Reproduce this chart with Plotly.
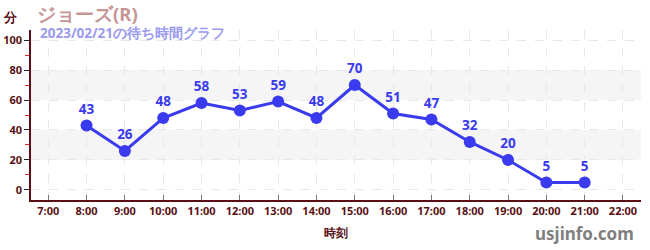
import plotly.graph_objects as go

hours = [8, 9, 10, 11, 12, 13, 14, 15, 16, 17, 18, 19, 20, 21]
waits = [43, 26, 48, 58, 53, 59, 48, 70, 51, 47, 32, 20, 5, 5]
tick_hours = list(range(7, 23))
tick_labels = [f"{h}:00" for h in tick_hours]
y_ticks = [0, 20, 40, 60, 80, 100]

maroon = "#5a0f14"
blue = "#3a3aee"

fig = go.Figure()
fig.add_trace(go.Scatter(
    x=hours, y=waits, mode="lines+markers+text",
    text=[str(v) for v in waits], textposition="top center",
    textfont=dict(color=blue, size=13.5, family="Noto Sans", weight="bold"),
    line=dict(color=blue, width=3),
    marker=dict(color=blue, size=12),
    cliponaxis=False, showlegend=False,
))

for lo, hi in [(20, 40), (60, 80)]:
    fig.add_shape(type="rect", xref="paper", yref="y", x0=0, x1=1, y0=lo, y1=hi,
                  fillcolor="#f5f5f5", line_width=0, layer="below")

fig.update_layout(
    width=650, height=250,
    margin=dict(l=31, r=9, t=30, b=50),
    plot_bgcolor="white", paper_bgcolor="white",
    font=dict(family="Noto Sans", color=maroon),
    xaxis=dict(
        range=[6.55, 22.47], tickvals=tick_hours, ticktext=tick_labels,
        showgrid=True, gridcolor="#e8e8e8", griddash="dash", gridwidth=1,
        showline=True, linecolor=maroon, linewidth=1.5,
        ticks="inside", ticklen=5, tickcolor="#777777",
        tickfont=dict(size=11, color=maroon, weight="bold"),
        zeroline=False, automargin=False,
        title=dict(text="時刻", font=dict(size=12, color=maroon, weight="bold"), standoff=12),
    ),
    yaxis=dict(
        range=[-6.7, 106.7], tickvals=y_ticks,
        showgrid=True, gridcolor="#e8e8e8", griddash="dash", gridwidth=1,
        showline=True, linecolor=maroon, linewidth=1.5,
        ticks="outside", ticklen=5, tickcolor="#222222",
        tickfont=dict(size=11, color=maroon, weight="bold"),
        zeroline=False, automargin=False,
        minor=dict(tickvals=[10, 30, 50, 70, 90], ticks="outside", ticklen=4, tickcolor="#dd2222", showgrid=False),
    ),
)

fig.add_annotation(text="分", xref="paper", yref="paper", x=-21/610, y=1 + 13/170,
                   xanchor="center", yanchor="middle", showarrow=False,
                   font=dict(size=13, color=maroon, weight="bold"))
fig.add_annotation(text="ジョーズ(R)", xref="paper", yref="paper", x=4/610, y=1 + 16/170,
                   xanchor="left", yanchor="middle", showarrow=False,
                   font=dict(size=18.5, color="#c89595", weight="bold"))
fig.add_annotation(text="2023/02/21の待ち時間グラフ", xref="paper", yref="paper", x=7/610, y=1 - 3/170,
                   xanchor="left", yanchor="middle", showarrow=False,
                   font=dict(size=13.5, color="#9a9af0", weight="bold"))
fig.add_annotation(text="usjinfo.com", xref="paper", yref="paper", x=1 - 5/610, y=-33/170,
                   xanchor="right", yanchor="middle", showarrow=False,
                   font=dict(size=17, color="#808080", weight="bold"))

fig.write_html("out.html")
